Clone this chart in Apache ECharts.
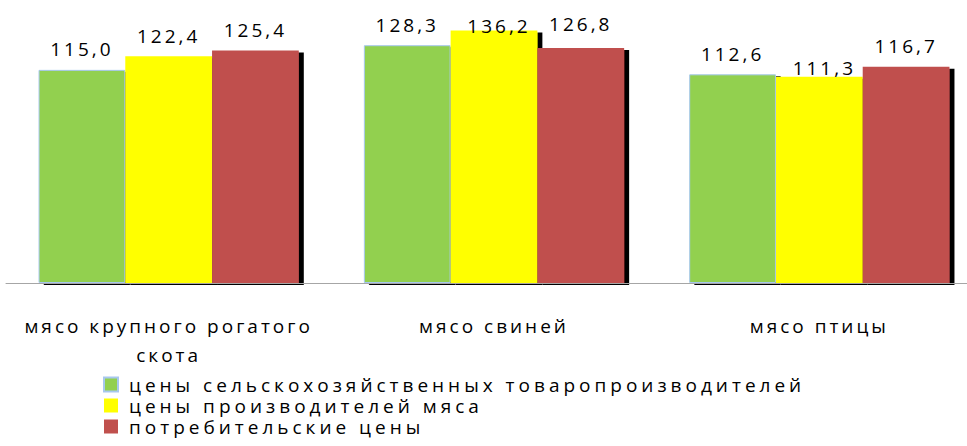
<!DOCTYPE html>
<html>
<head>
<meta charset="utf-8">
<script src="https://cdn.jsdelivr.net/npm/echarts@6/dist/echarts.min.js"></script>
<style>
  html, body { margin: 0; padding: 0; background: #fff; }
  #chart { width: 967px; height: 446px; }
  #chart text { letter-spacing: 3px; }
</style>
</head>
<body>
<div id="chart"></div>
<script>
// Category names and series names
const categories = ['мясо крупного рогатого скота', 'мясо свиней', 'мясо птицы'];
const seriesNames = [
  'цены сельскохозяйственных товаропроизводителей',
  'цены производителей мяса',
  'потребительские цены'
];

// Values
const farmerValues = [115.0, 128.3, 112.6];
const producerValues = [122.4, 136.2, 111.3];
const consumerValues = [125.4, 126.8, 116.7];

const colors = ['#92D050', '#FFFF00', '#C0504D'];
const valuesList = [farmerValues, producerValues, consumerValues];

// per-label nudges (style only): key = series-category
const labelNudge = {
  '1-1': [5, 16],
  '1-2': [5, 12],
  '2-1': [0, -3]
};

const fmt = v => v.toFixed(1).replace('.', ',');

const series = valuesList.map((vals, si) => ({
  name: seriesNames[si],
  type: 'bar',
  barGap: '0%',
  barCategoryGap: '20%',
  z: 2,
  data: vals.map((v, ci) => {
    const item = { value: v };
    const n = labelNudge[si + '-' + ci];
    if (n) item.label = { offset: n };
    return item;
  }),
  itemStyle: {
    color: colors[si],
    borderColor: si === 0 ? '#A7C8EE' : colors[si],
    borderWidth: si === 0 ? 1 : 0,
    shadowColor: '#000',
    shadowBlur: 0,
    shadowOffsetX: 5,
    shadowOffsetY: 2
  },
  label: {
    show: true,
    position: 'top',
    distance: 11,
    formatter: p => fmt(p.value),
    color: '#000',
    fontFamily: 'Open Sans',
    fontSize: 19
  }
}));

const chartEl = document.getElementById('chart');
const chart = echarts.init(chartEl, null, { renderer: 'svg' });
chart.setOption({
  animation: false,
  backgroundColor: '#fff',
  grid: { left: 6, top: 5, width: 976, bottom: 163, containLabel: false, outerBoundsMode: 'none' },
  xAxis: {
    type: 'category',
    data: categories,
    z: 10,
    axisTick: { show: false },
    axisLine: { lineStyle: { color: '#A6A6A6', width: 1 } },
    axisLabel: {
      color: '#000',
      fontFamily: 'Open Sans',
      fontSize: 19,
      lineHeight: 29,
      margin: 28,
      interval: 0,
      formatter: v => {
        const w = v.split(' ');
        return w.length > 3 ? w.slice(0, w.length - 1).join(' ') + '\n' + w[w.length - 1] : v;
      }
    }
  },
  yAxis: {
    type: 'value',
    min: 0,
    max: 150,
    show: false,
    splitLine: { show: false }
  },
  legend: {
    orient: 'vertical',
    left: 103,
    top: 374,
    padding: 0,
    itemGap: 0,
    itemWidth: 14,
    itemHeight: 14,
    icon: 'rect',
    textStyle: {
      color: '#000', fontFamily: 'Open Sans', fontSize: 19, lineHeight: 21,
      padding: [0, 0, 0, 6]
    },
    data: seriesNames
  },
  series: series
});

// legend text is set a little wider in the reference
chartEl.querySelectorAll('text').forEach(t => {
  if (seriesNames.indexOf(t.textContent) >= 0) t.style.letterSpacing = '4px';
});
</script>
</body>
</html>
